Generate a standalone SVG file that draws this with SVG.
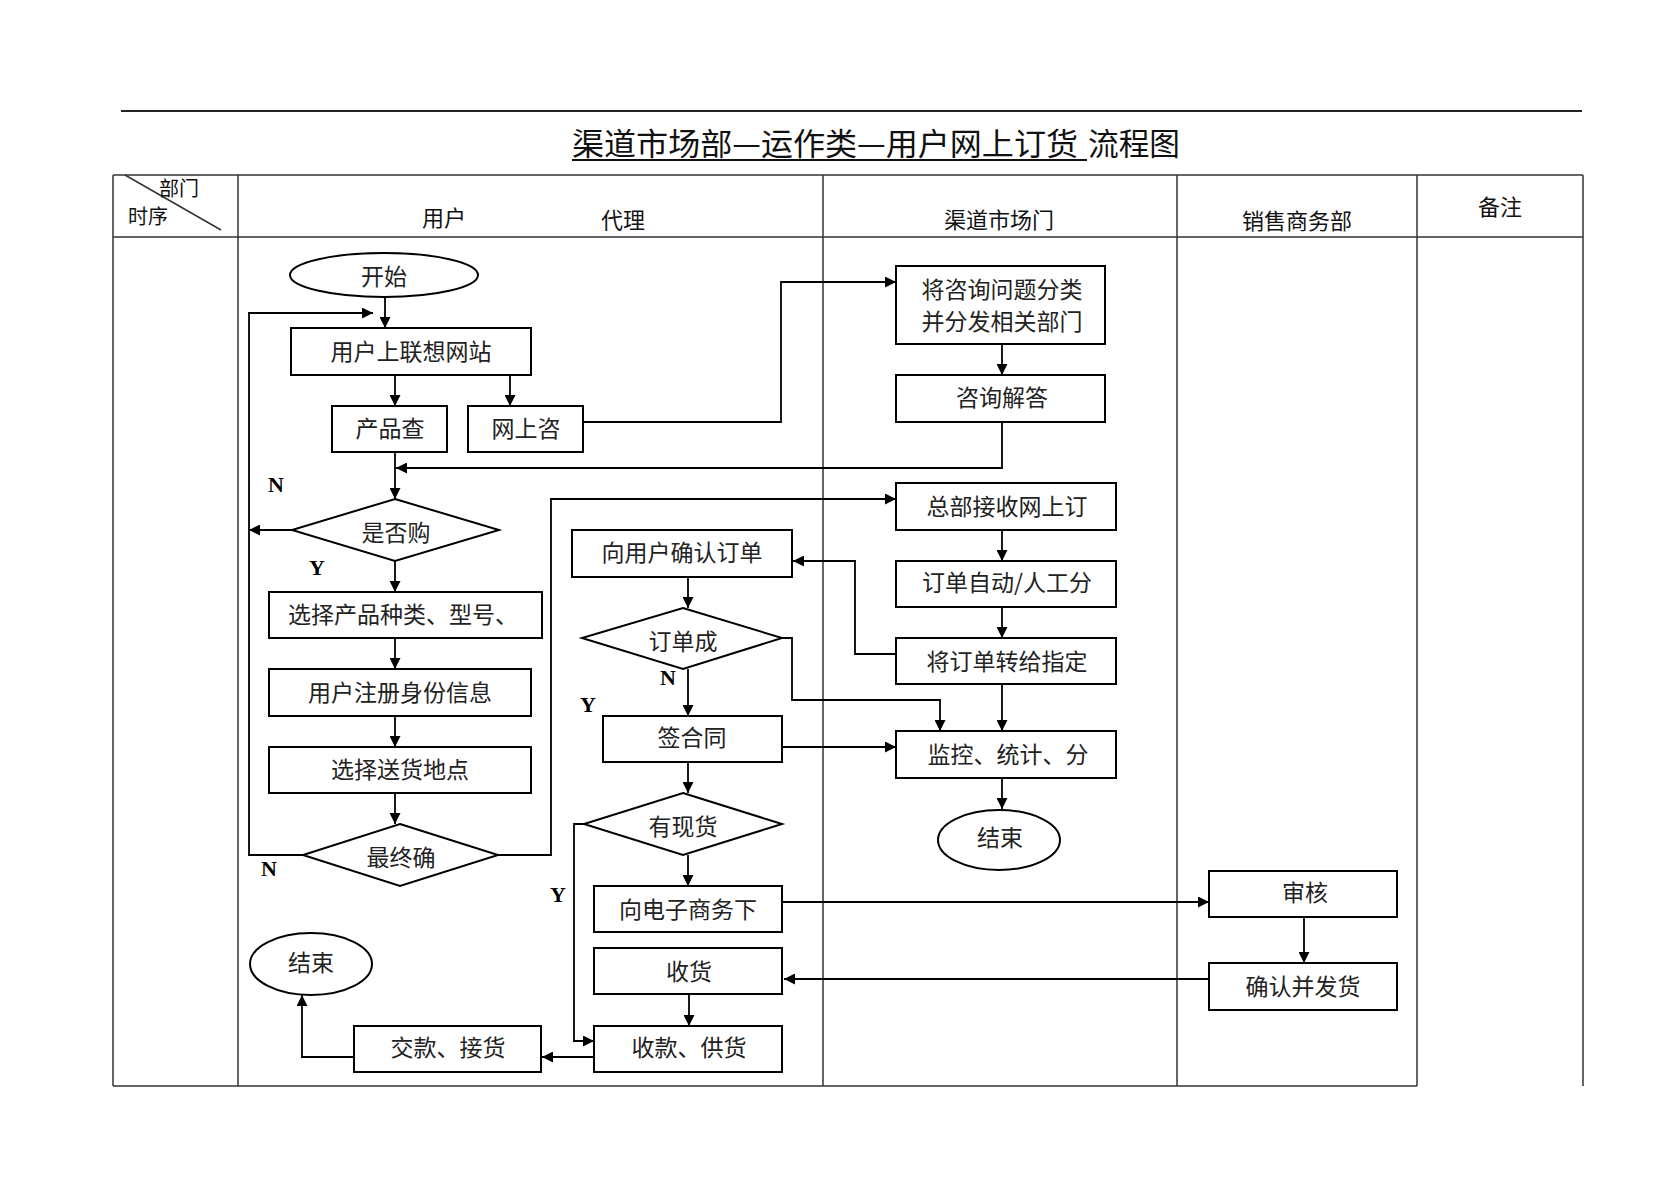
<svg xmlns="http://www.w3.org/2000/svg" width="1672" height="1182" viewBox="0 0 1672 1182">
<defs>
<marker id="ah" markerUnits="userSpaceOnUse" markerWidth="12" markerHeight="11" refX="11" refY="5.5" orient="auto">
<path d="M0,0 L11,5.5 L0,11 z" fill="#000"/>
</marker>
<style>
.tl{stroke:#333;stroke-width:1.5;fill:none}
.nd{fill:#fff;stroke:#000;stroke-width:2}
.tx{font-family:"Noto Sans CJK SC",sans-serif;font-size:23px;fill:#222;text-anchor:middle}
.hd{font-family:"Noto Sans CJK SC",sans-serif;font-size:22px;fill:#111;text-anchor:middle}
.hs{font-family:"Noto Sans CJK SC",sans-serif;font-size:20px;fill:#111;text-anchor:middle}
.yn{font-family:"Liberation Serif",serif;font-size:22px;font-weight:bold;fill:#000;text-anchor:middle}
.cn{stroke:#000;stroke-width:1.8;fill:none}
.ca{stroke:#000;stroke-width:1.8;fill:none;marker-end:url(#ah)}
</style>
</defs>
<rect width="1672" height="1182" fill="#fff"/>

<!-- title -->
<g id="title">
<line x1="121" y1="111" x2="1582" y2="111" stroke="#222" stroke-width="2"/>
<text x="572" y="155" font-family="Noto Sans CJK SC,sans-serif" font-size="31" fill="#111" textLength="506" lengthAdjust="spacingAndGlyphs">渠道市场部—运作类—用户网上订货</text>
<line x1="572" y1="160" x2="1087" y2="160" stroke="#111" stroke-width="2"/>
<text x="1088" y="155" font-family="Noto Sans CJK SC,sans-serif" font-size="31" fill="#111" textLength="92" lengthAdjust="spacingAndGlyphs">流程图</text>
</g>

<!-- table -->
<g id="table">
<line class="tl" x1="113" y1="175" x2="1583" y2="175"/>
<line class="tl" x1="113" y1="237" x2="1583" y2="237"/>
<line class="tl" x1="113" y1="1086" x2="1417" y2="1086"/>
<line class="tl" x1="113" y1="175" x2="113" y2="1086"/>
<line class="tl" x1="238" y1="175" x2="238" y2="1086"/>
<line class="tl" x1="823" y1="175" x2="823" y2="1086"/>
<line class="tl" x1="1177" y1="175" x2="1177" y2="1086"/>
<line class="tl" x1="1417" y1="175" x2="1417" y2="1086"/>
<line class="tl" x1="1583" y1="175" x2="1583" y2="1086"/>
<line class="tl" x1="125" y1="175" x2="221" y2="230"/>
<text class="hs" x="179" y="196">部门</text>
<text class="hs" x="148" y="224">时序</text>
<text class="hd" x="444" y="226">用户</text>
<text class="hd" x="623" y="228">代理</text>
<text class="hd" x="999" y="228">渠道市场门</text>
<text class="hd" x="1297" y="229">销售商务部</text>
<text class="hd" x="1500" y="215">备注</text>
</g>

<!-- connectors -->
<g id="connectors">
<polyline class="ca" points="385,297 385,328"/>
<polyline class="ca" points="303,855 249,855 249,313 373,313"/>
<polyline class="ca" points="395,375 395,406"/>
<polyline class="ca" points="510,375 510,406"/>
<polyline class="ca" points="395,452 395,499"/>
<polyline class="ca" points="583,422 781,422 781,282 896,282"/>
<polyline class="ca" points="1002,344 1002,375"/>
<polyline class="ca" points="1002,422 1002,468 396,468"/>
<polyline class="ca" points="292,530 249,530"/>
<polyline class="ca" points="395,561 395,592"/>
<polyline class="ca" points="395,638 395,669"/>
<polyline class="ca" points="395,716 395,747"/>
<polyline class="ca" points="395,793 395,824"/>
<polyline class="ca" points="498,855 551,855 551,499 896,499"/>
<polyline class="ca" points="1002,530 1002,561"/>
<polyline class="ca" points="1002,607 1002,638"/>
<polyline class="ca" points="896,654 855,654 855,561 793,561"/>
<polyline class="ca" points="688,577 688,608"/>
<polyline class="ca" points="688,669 688,716"/>
<polyline class="ca" points="782,638 792,638 792,700 940,700 940,731"/>
<polyline class="ca" points="1002,684 1002,731"/>
<polyline class="ca" points="782,747 896,747"/>
<polyline class="ca" points="1002,778 1002,809"/>
<polyline class="ca" points="688,762 688,793"/>
<polyline class="ca" points="688,855 688,886"/>
<polyline class="ca" points="584,824 574,824 574,1041 594,1041"/>
<polyline class="ca" points="782,902 1209,902"/>
<polyline class="ca" points="1304,917 1304,963"/>
<polyline class="ca" points="1209,979 784,979"/>
<polyline class="ca" points="689,994 689,1026"/>
<polyline class="ca" points="594,1057 542,1057"/>
<polyline class="ca" points="354,1057 302,1057 302,995"/>
</g>

<!-- labels -->
<g id="labels">
<text class="yn" x="276" y="492">N</text>
<text class="yn" x="317" y="575">Y</text>
<text class="yn" x="269" y="876">N</text>
<text class="yn" x="668" y="685">N</text>
<text class="yn" x="588" y="712">Y</text>
<text class="yn" x="558" y="902">Y</text>
</g>

<!-- nodes -->
<g id="n-start"><ellipse class="nd" cx="384" cy="275" rx="94" ry="22"/><text class="tx" x="384" y="285">开始</text></g>
<g id="n-visit"><rect class="nd" x="291" y="328" width="240" height="47"/><text class="tx" x="411" y="360">用户上联想网站</text></g>
<g id="n-query"><rect class="nd" x="332" y="406" width="115" height="46"/><text class="tx" x="390" y="437">产品查</text></g>
<g id="n-consult"><rect class="nd" x="468" y="406" width="115" height="46"/><text class="tx" x="526" y="437">网上咨</text></g>
<g id="n-buy"><polygon class="nd" points="395,499 499,530 395,561 292,530"/><text class="tx" x="396" y="541">是否购</text></g>
<g id="n-select"><rect class="nd" x="269" y="592" width="273" height="46"/><text class="tx" x="288" y="623" style="text-anchor:start">选择产品种类、型号、</text></g>
<g id="n-register"><rect class="nd" x="269" y="669" width="262" height="47"/><text class="tx" x="400" y="701">用户注册身份信息</text></g>
<g id="n-address"><rect class="nd" x="269" y="747" width="262" height="46"/><text class="tx" x="400" y="778">选择送货地点</text></g>
<g id="n-final"><polygon class="nd" points="400,824 498,855 400,886 303,855"/><text class="tx" x="401" y="866">最终确</text></g>
<g id="n-classify"><rect class="nd" x="896" y="266" width="209" height="78"/><text class="tx" x="1002" y="298">将咨询问题分类</text><text class="tx" x="1002" y="330">并分发相关部门</text></g>
<g id="n-answer"><rect class="nd" x="896" y="375" width="209" height="47"/><text class="tx" x="1002" y="406">咨询解答</text></g>
<g id="n-receive"><rect class="nd" x="896" y="483" width="220" height="47"/><text class="tx" x="1007" y="515">总部接收网上订</text></g>
<g id="n-confirm"><rect class="nd" x="572" y="530" width="220" height="47"/><text class="tx" x="682" y="561">向用户确认订单</text></g>
<g id="n-dispatch"><rect class="nd" x="896" y="561" width="220" height="46"/><text class="tx" x="1007" y="591">订单自动/人工分</text></g>
<g id="n-transfer"><rect class="nd" x="896" y="638" width="220" height="46"/><text class="tx" x="1007" y="670">将订单转给指定</text></g>
<g id="n-success"><polygon class="nd" points="683,608 782,638 683,669 582,638"/><text class="tx" x="683" y="650">订单成</text></g>
<g id="n-contract"><rect class="nd" x="603" y="716" width="179" height="46"/><text class="tx" x="692" y="746">签合同</text></g>
<g id="n-monitor"><rect class="nd" x="896" y="731" width="220" height="47"/><text class="tx" x="1008" y="763">监控、统计、分</text></g>
<g id="n-end2"><ellipse class="nd" cx="999" cy="840" rx="61" ry="30"/><text class="tx" x="1000" y="846">结束</text></g>
<g id="n-stock"><polygon class="nd" points="683,793 782,824 683,855 584,824"/><text class="tx" x="683" y="835">有现货</text></g>
<g id="n-order"><rect class="nd" x="594" y="886" width="188" height="46"/><text class="tx" x="688" y="918">向电子商务下</text></g>
<g id="n-goods"><rect class="nd" x="594" y="948" width="188" height="46"/><text class="tx" x="689" y="980">收货</text></g>
<g id="n-supply"><rect class="nd" x="594" y="1026" width="188" height="46"/><text class="tx" x="689" y="1056">收款、供货</text></g>
<g id="n-pay"><rect class="nd" x="354" y="1026" width="187" height="46"/><text class="tx" x="448" y="1056">交款、接货</text></g>
<g id="n-end1"><ellipse class="nd" cx="311" cy="964" rx="61" ry="31"/><text class="tx" x="311" y="971">结束</text></g>
<g id="n-audit"><rect class="nd" x="1209" y="871" width="188" height="46"/><text class="tx" x="1305" y="901">审核</text></g>
<g id="n-ship"><rect class="nd" x="1209" y="963" width="188" height="47"/><text class="tx" x="1303" y="995">确认并发货</text></g>
</svg>
